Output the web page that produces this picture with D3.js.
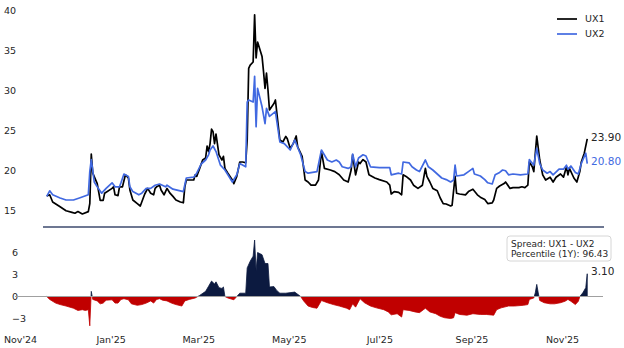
<!DOCTYPE html>
<html lang="en">
<head>
<meta charset="UTF-8">
<title>UX1 vs UX2 with spread</title>
<script src="https://d3js.org/d3.v7.min.js"></script>
<style>
  body { margin: 0; background: #fff; }
  svg { display: block; font-family: "DejaVu Sans", sans-serif; }
</style>
</head>
<body>
<div id="chart"></div>
<script>
// front-month and second-month futures, [date, level]
const ux1 = [
  ["2024-11-19",16.75],["2024-11-21",16.9],["2024-11-23",16.0],["2024-11-28",15.4],["2024-12-02",14.9],
  ["2024-12-06",14.7],["2024-12-08",14.6],["2024-12-10",14.8],["2024-12-13",14.5],["2024-12-17",14.8],
  ["2024-12-18",15.8],["2024-12-19",22.0],["2024-12-20",19.6],["2024-12-23",18.3],["2024-12-25",16.2],
  ["2024-12-27",16.2],["2024-12-28",17.1],["2025-01-02",17.7],["2025-01-03",17.9],["2025-01-04",16.9],
  ["2025-01-06",16.8],["2025-01-07",17.9],["2025-01-09",17.9],["2025-01-11",19.4],["2025-01-13",19.0],
  ["2025-01-14",17.5],["2025-01-16",16.25],["2025-01-19",15.8],["2025-01-21",15.5],["2025-01-22",16.0],
  ["2025-01-24",17.0],["2025-01-26",17.7],["2025-01-28",17.1],["2025-01-30",16.9],["2025-01-31",17.7],
  ["2025-02-01",17.9],["2025-02-03",18.1],["2025-02-04",17.5],["2025-02-06",16.9],["2025-02-08",17.7],
  ["2025-02-10",17.1],["2025-02-12",16.7],["2025-02-14",16.25],["2025-02-17",16.0],["2025-02-19",15.9],
  ["2025-02-20",17.9],["2025-02-21",18.75],["2025-02-26",18.75],["2025-02-27",19.4],["2025-02-28",19.2],
  ["2025-03-02",20.2],["2025-03-04",21.25],["2025-03-06",21.5],["2025-03-07",23.0],["2025-03-08",22.3],
  ["2025-03-09",23.3],["2025-03-10",25.1],["2025-03-11",24.8],["2025-03-12",23.3],["2025-03-13",24.5],
  ["2025-03-15",21.9],["2025-03-17",21.25],["2025-03-18",21.7],["2025-03-19",20.2],["2025-03-21",19.6],
  ["2025-03-24",18.75],["2025-03-25",18.3],["2025-03-27",19.2],["2025-03-29",21.0],["2025-03-31",21.0],
  ["2025-04-02",20.9],["2025-04-03",23.75],["2025-04-04",32.7],["2025-04-05",33.1],["2025-04-07",33.5],
  ["2025-04-08",39.4],["2025-04-09",34.0],["2025-04-10",36.0],["2025-04-13",34.2],["2025-04-14",32.3],
  ["2025-04-15",30.2],["2025-04-16",32.1],["2025-04-17",30.0],["2025-04-18",27.5],["2025-04-21",28.3],
  ["2025-04-22",28.75],["2025-04-25",23.75],["2025-04-27",23.5],["2025-04-29",24.2],["2025-04-30",23.9],
  ["2025-05-02",22.7],["2025-05-04",23.3],["2025-05-06",24.25],["2025-05-07",22.9],["2025-05-10",21.7],
  ["2025-05-12",18.75],["2025-05-14",18.5],["2025-05-16",18.1],["2025-05-19",18.1],["2025-05-21",18.75],
  ["2025-05-23",22.3],["2025-05-25",20.2],["2025-05-29",20.0],["2025-06-01",19.8],["2025-06-04",19.4],
  ["2025-06-07",18.75],["2025-06-10",18.5],["2025-06-12",20.0],["2025-06-13",21.9],["2025-06-15",19.4],
  ["2025-06-17",21.0],["2025-06-18",20.8],["2025-06-20",21.3],["2025-06-22",21.0],["2025-06-24",19.4],
  ["2025-06-28",19.0],["2025-07-01",18.8],["2025-07-06",18.5],["2025-07-08",18.1],["2025-07-09",17.0],
  ["2025-07-11",17.3],["2025-07-14",17.2],["2025-07-16",16.9],["2025-07-17",19.4],["2025-07-19",19.2],
  ["2025-07-22",18.75],["2025-07-24",18.1],["2025-07-27",17.7],["2025-07-30",18.1],["2025-08-01",20.2],
  ["2025-08-02",19.2],["2025-08-04",18.5],["2025-08-06",17.7],["2025-08-09",17.4],["2025-08-11",16.5],
  ["2025-08-13",15.8],["2025-08-15",15.75],["2025-08-18",15.5],["2025-08-19",15.6],["2025-08-21",19.2],
  ["2025-08-22",17.1],["2025-08-24",17.0],["2025-08-28",16.9],["2025-08-30",17.3],["2025-09-02",17.6],
  ["2025-09-05",16.9],["2025-09-07",16.6],["2025-09-10",16.3],["2025-09-12",15.8],["2025-09-15",15.9],
  ["2025-09-16",16.25],["2025-09-18",17.7],["2025-09-20",18.0],["2025-09-23",18.3],["2025-09-24",18.5],
  ["2025-09-27",17.7],["2025-09-29",17.8],["2025-10-03",17.8],["2025-10-05",17.9],["2025-10-07",17.8],
  ["2025-10-09",18.1],["2025-10-10",21.0],["2025-10-12",20.4],["2025-10-13",19.8],["2025-10-15",24.25],
  ["2025-10-17",21.25],["2025-10-19",19.4],["2025-10-21",18.75],["2025-10-24",19.1],["2025-10-26",18.5],
  ["2025-10-28",19.1],["2025-10-31",19.5],["2025-11-02",19.1],["2025-11-04",20.4],["2025-11-05",19.4],
  ["2025-11-06",20.2],["2025-11-09",19.0],["2025-11-11",18.5],["2025-11-13",19.8],["2025-11-14",21.0],
  ["2025-11-16",22.1],["2025-11-18",23.9]
];

const ux2 = [
  ["2024-11-19",16.7],["2024-11-21",17.4],["2024-11-23",16.9],["2024-11-28",16.5],["2024-12-02",16.25],
  ["2024-12-07",16.25],["2024-12-11",16.5],["2024-12-17",16.9],["2024-12-18",19.8],["2024-12-19",21.3],
  ["2024-12-21",18.5],["2024-12-23",17.9],["2024-12-26",17.1],["2024-12-29",17.7],["2025-01-02",18.4],
  ["2025-01-04",17.9],["2025-01-07",17.9],["2025-01-08",18.4],["2025-01-10",19.5],["2025-01-13",19.2],
  ["2025-01-14",17.9],["2025-01-16",17.3],["2025-01-20",16.9],["2025-01-22",17.1],["2025-01-25",17.7],
  ["2025-01-28",17.7],["2025-01-31",18.1],["2025-02-03",18.25],["2025-02-07",17.9],["2025-02-08",18.1],
  ["2025-02-12",17.6],["2025-02-19",17.3],["2025-02-21",19.0],["2025-02-26",19.1],["2025-02-28",19.6],
  ["2025-03-03",20.75],["2025-03-06",21.25],["2025-03-08",21.9],["2025-03-09",22.5],["2025-03-11",23.0],
  ["2025-03-13",22.3],["2025-03-16",20.6],["2025-03-19",20.0],["2025-03-21",19.4],["2025-03-24",18.5],
  ["2025-03-27",19.4],["2025-03-29",20.8],["2025-04-02",20.4],["2025-04-03",28.5],["2025-04-04",28.75],
  ["2025-04-07",28.5],["2025-04-08",31.7],["2025-04-09",25.4],["2025-04-10",30.2],["2025-04-13",27.9],
  ["2025-04-15",25.8],["2025-04-16",27.7],["2025-04-18",26.7],["2025-04-22",27.3],["2025-04-25",23.5],
  ["2025-04-28",23.3],["2025-05-02",22.5],["2025-05-05",23.75],["2025-05-09",21.9],["2025-05-12",19.8],
  ["2025-05-14",19.6],["2025-05-20",19.8],["2025-05-23",22.5],["2025-05-27",21.25],["2025-05-30",21.0],
  ["2025-06-02",21.25],["2025-06-04",21.0],["2025-06-06",20.4],["2025-06-10",20.2],["2025-06-12",20.4],
  ["2025-06-13",22.0],["2025-06-15",20.4],["2025-06-17",21.5],["2025-06-20",21.9],["2025-06-22",21.75],
  ["2025-06-25",20.4],["2025-07-01",20.3],["2025-07-08",20.3],["2025-07-09",19.4],["2025-07-14",19.6],
  ["2025-07-16",19.5],["2025-07-17",21.0],["2025-07-21",20.9],["2025-07-23",20.4],["2025-07-26",20.0],
  ["2025-07-28",19.8],["2025-08-01",21.25],["2025-08-03",20.4],["2025-08-06",20.0],["2025-08-09",19.5],
  ["2025-08-12",19.0],["2025-08-15",18.8],["2025-08-18",18.5],["2025-08-20",18.75],["2025-08-21",20.6],
  ["2025-08-22",19.25],["2025-08-27",19.4],["2025-08-30",19.8],["2025-09-02",20.2],["2025-09-03",19.5],
  ["2025-09-07",19.25],["2025-09-10",18.8],["2025-09-12",18.4],["2025-09-15",18.25],["2025-09-17",19.4],
  ["2025-09-20",19.7],["2025-09-22",20.0],["2025-09-24",19.9],["2025-09-26",19.4],["2025-09-29",19.5],
  ["2025-10-04",19.4],["2025-10-09",19.5],["2025-10-10",21.3],["2025-10-13",20.6],["2025-10-15",22.7],
  ["2025-10-17",20.8],["2025-10-19",20.0],["2025-10-22",19.6],["2025-10-24",19.8],["2025-10-26",19.4],
  ["2025-10-30",20.1],["2025-11-02",20.1],["2025-11-04",20.6],["2025-11-05",20.1],["2025-11-07",20.5],
  ["2025-11-10",19.7],["2025-11-12",19.5],["2025-11-14",20.8],["2025-11-15",21.25],["2025-11-17",22.1],
  ["2025-11-18",20.8]
];

// UX1 - UX2
const spread = [
  ["2024-11-19",0],["2024-11-21",-0.4],["2024-11-25",-0.9],["2024-11-28",-1.1],["2024-12-02",-1.3],
  ["2024-12-07",-1.6],["2024-12-10",-1.9],["2024-12-13",-1.8],["2024-12-15",-1.9],["2024-12-17",-1.8],
  ["2024-12-18",-4.0],["2024-12-19",0.7],["2024-12-20",-0.4],["2024-12-23",-0.6],["2024-12-25",-1.0],
  ["2024-12-27",-0.9],["2024-12-29",-0.5],["2025-01-02",-0.45],["2025-01-04",-0.9],["2025-01-06",-0.9],
  ["2025-01-08",-0.4],["2025-01-10",-0.3],["2025-01-13",-0.45],["2025-01-15",-1.0],["2025-01-19",-1.2],
  ["2025-01-22",-1.1],["2025-01-25",-0.9],["2025-01-28",-0.6],["2025-01-30",-0.9],["2025-02-01",-0.4],
  ["2025-02-03",-0.3],["2025-02-05",-0.5],["2025-02-08",-0.6],["2025-02-11",-0.9],["2025-02-14",-1.1],
  ["2025-02-18",-1.3],["2025-02-20",-0.6],["2025-02-23",-0.4],["2025-02-27",-0.2],["2025-03-02",0.15],
  ["2025-03-06",0.7],["2025-03-08",1.4],["2025-03-10",2.1],["2025-03-12",1.7],["2025-03-13",2.0],
  ["2025-03-15",1.2],["2025-03-17",1.1],["2025-03-18",1.3],["2025-03-19",0],["2025-03-21",-0.2],
  ["2025-03-25",-0.45],["2025-03-27",0],["2025-03-29",0.45],["2025-04-02",0.45],["2025-04-03",3.9],
  ["2025-04-05",4.8],["2025-04-07",5.5],["2025-04-08",7.7],["2025-04-09",3.5],["2025-04-10",6.0],
  ["2025-04-13",5.7],["2025-04-15",4.5],["2025-04-17",4.5],["2025-04-18",1.3],["2025-04-21",1.35],
  ["2025-04-23",0.8],["2025-04-25",0.45],["2025-04-29",0.45],["2025-05-05",0.6],["2025-05-07",0.3],
  ["2025-05-09",0],["2025-05-11",-0.6],["2025-05-14",-1.3],["2025-05-17",-1.5],["2025-05-20",-1.6],
  ["2025-05-23",-0.55],["2025-05-27",-0.85],["2025-05-31",-1.1],["2025-06-04",-1.3],["2025-06-09",-1.6],
  ["2025-06-11",-1.8],["2025-06-13",-1.0],["2025-06-15",-1.45],["2025-06-18",-0.3],["2025-06-21",-0.85],
  ["2025-06-25",-1.3],["2025-06-29",-1.55],["2025-07-04",-1.8],["2025-07-07",-2.1],["2025-07-09",-2.5],
  ["2025-07-13",-2.35],["2025-07-16",-2.8],["2025-07-17",-1.8],["2025-07-21",-1.9],["2025-07-25",-2.1],
  ["2025-07-28",-2.2],["2025-08-01",-1.6],["2025-08-04",-2.1],["2025-08-08",-2.35],["2025-08-11",-2.7],
  ["2025-08-14",-2.9],["2025-08-18",-3.0],["2025-08-20",-2.9],["2025-08-21",-2.2],["2025-08-24",-2.45],
  ["2025-08-29",-2.55],["2025-09-02",-2.35],["2025-09-07",-2.45],["2025-09-11",-2.45],["2025-09-16",-2.55],
  ["2025-09-18",-1.8],["2025-09-21",-1.55],["2025-09-26",-1.3],["2025-09-30",-1.3],["2025-10-06",-1.2],
  ["2025-10-09",-1.1],["2025-10-10",-0.4],["2025-10-13",-0.2],["2025-10-14",0.5],["2025-10-15",1.65],
  ["2025-10-16",0.5],["2025-10-17",-0.55],["2025-10-20",-0.85],["2025-10-24",-1.0],["2025-10-27",-1.0],
  ["2025-10-31",-0.85],["2025-11-03",-0.65],["2025-11-05",-0.4],["2025-11-07",-0.65],["2025-11-10",-1.1],
  ["2025-11-12",-0.65],["2025-11-13",0],["2025-11-15",0.5],["2025-11-17",1.2],["2025-11-18",3.1]
];

const xTicks = ["2024-11-01","2025-01-01","2025-03-01","2025-05-01","2025-07-01","2025-09-01","2025-11-01"];
const topTicks = [15, 20, 25, 30, 35, 40];
const bottomTicks = [-3, 0, 3, 6];
const spreadPercentile = 96.43;

const width = 624, height = 348;
const parse = d3.timeParse("%Y-%m-%d");
const toPts = arr => arr.map(([d, v]) => ({date: parse(d), v}));
const s1 = toPts(ux1), s2 = toPts(ux2), sp = toPts(spread);

const x = d3.scaleTime()
  .domain([parse("2024-11-01"), parse("2025-11-01")])
  .range([20, 562]);
const yTop = d3.scaleLinear().domain([15, 40]).range([210, 10]);
const yBot = d3.scaleLinear().domain([-3, 6]).range([318.5, 252.5]);

const svg = d3.create("svg")
  .attr("width", width)
  .attr("height", height)
  .attr("viewBox", [0, 0, width, height]);

// y axes (labels only)
const gTop = svg.append("g")
  .attr("transform", "translate(16,0)")
  .call(d3.axisLeft(yTop).tickValues(topTicks).tickSize(0).tickPadding(0));
const gBot = svg.append("g")
  .attr("transform", "translate(12,0)")
  .call(d3.axisRight(yBot).tickValues(bottomTicks).tickSize(0).tickPadding(0)
    .tickFormat(d => d < 0 ? "\u2212" + Math.abs(d) : d));
const gX = svg.append("g")
  .attr("transform", "translate(0,336)")
  .call(d3.axisBottom(x).tickValues(xTicks.map(parse))
    .tickFormat(d3.timeFormat("%b'%y")).tickSize(0).tickPadding(0));

[gTop, gBot, gX].forEach(g => {
  g.select(".domain").remove();
  g.attr("font-family", null).attr("font-size", 9.5);
  g.selectAll("text").attr("fill", "#262626");
});

// separator under the upper panel
svg.append("line")
  .attr("x1", 43).attr("x2", 604)
  .attr("y1", 227).attr("y2", 227)
  .attr("stroke", "#3d4a6e").attr("stroke-width", 1.5);

// upper panel lines
const line = d3.line().x(d => x(d.date)).y(d => yTop(d.v));
svg.append("path").datum(s1)
  .attr("fill", "none").attr("stroke", "#000").attr("stroke-width", 1.7)
  .attr("stroke-linejoin", "round").attr("d", line);
svg.append("path").datum(s2)
  .attr("fill", "none").attr("stroke", "#4169e1").attr("stroke-width", 1.7)
  .attr("stroke-linejoin", "round").attr("d", line);

// end labels
const last1 = s1[s1.length - 1], last2 = s2[s2.length - 1], lastS = sp[sp.length - 1];
svg.append("text").attr("x", 591).attr("y", yTop(last1.v) - 1).attr("dy", "0.35em")
  .attr("font-size", 10.5).attr("fill", "#262626").text(last1.v.toFixed(2));
svg.append("text").attr("x", 591).attr("y", yTop(last2.v) - 2).attr("dy", "0.35em")
  .attr("font-size", 10.5).attr("fill", "#4169e1").text(last2.v.toFixed(2));

// legend
const legend = svg.append("g").attr("transform", "translate(557,19)");
[["UX1", "#000"], ["UX2", "#4169e1"]].forEach(([name, c], i) => {
  legend.append("line").attr("x1", 0).attr("x2", 20)
    .attr("y1", i * 15).attr("y2", i * 15)
    .attr("stroke", c).attr("stroke-width", 1.7);
  legend.append("text").attr("x", 28).attr("y", i * 15).attr("dy", "0.35em")
    .attr("font-size", 9.5).attr("fill", "#262626").text(name);
});

// lower panel: spread area split at zero
const y0 = yBot(0);
const defs = svg.append("defs");
defs.append("clipPath").attr("id", "above")
  .append("rect").attr("x", 0).attr("y", 0).attr("width", width).attr("height", y0);
defs.append("clipPath").attr("id", "below")
  .append("rect").attr("x", 0).attr("y", y0).attr("width", width).attr("height", height - y0);

const area = d3.area().x(d => x(d.date)).y0(y0).y1(d => yBot(d.v));
svg.append("path").datum(sp)
  .attr("clip-path", "url(#above)")
  .attr("fill", "#0c1a40").attr("stroke", "#0c1a40").attr("stroke-width", 0.8)
  .attr("d", area);
svg.append("path").datum(sp)
  .attr("clip-path", "url(#below)")
  .attr("fill", "#c00000").attr("stroke", "#c00000").attr("stroke-width", 0.8)
  .attr("d", area);

svg.append("line")
  .attr("x1", 15).attr("x2", 603)
  .attr("y1", y0).attr("y2", y0)
  .attr("stroke", "#a0a0a0").attr("stroke-width", 1.2);

svg.append("text").attr("x", 591).attr("y", yBot(lastS.v) - 2).attr("dy", "0.35em")
  .attr("font-size", 10.5).attr("fill", "#262626").text(lastS.v.toFixed(2));

// info box
const box = svg.append("g").attr("transform", "translate(507,236)");
box.append("rect").attr("width", 104).attr("height", 25).attr("rx", 3)
  .attr("fill", "#fff").attr("stroke", "#cccccc").attr("stroke-width", 0.8);
box.append("text").attr("x", 4).attr("y", 7.5).attr("dy", "0.35em")
  .attr("font-size", 9).attr("fill", "#262626").text("Spread: UX1 - UX2");
box.append("text").attr("x", 4).attr("y", 17.5).attr("dy", "0.35em")
  .attr("font-size", 9).attr("fill", "#262626").text(`Percentile (1Y): ${spreadPercentile.toFixed(2)}`);

document.getElementById("chart").appendChild(svg.node());
</script>
</body>
</html>
